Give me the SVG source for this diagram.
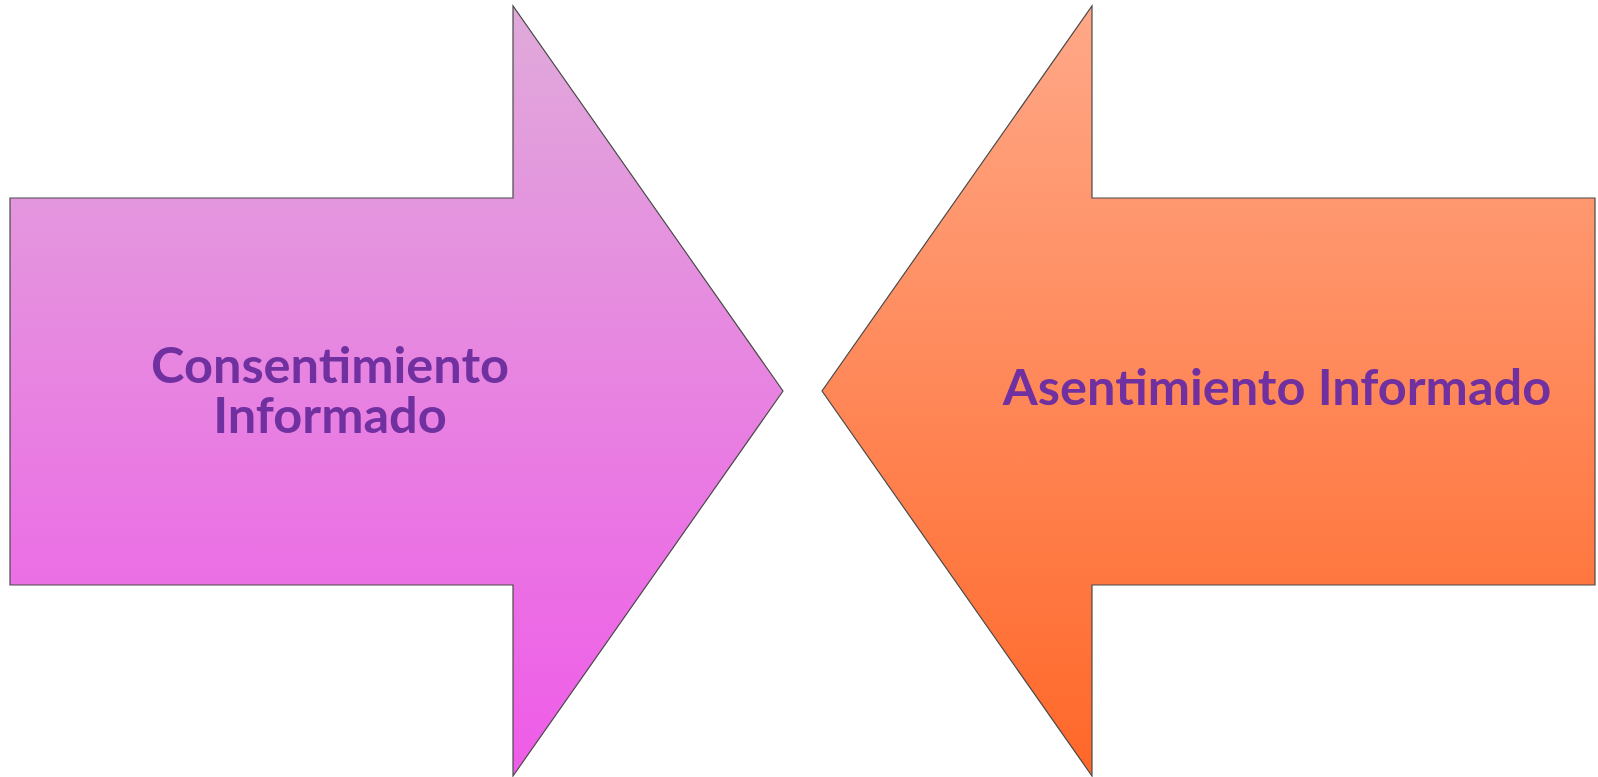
<svg xmlns="http://www.w3.org/2000/svg" width="1598" height="777" viewBox="0 0 1598 777">
<defs>
<linearGradient id="gPink" x1="0" y1="0" x2="0" y2="1" gradientUnits="objectBoundingBox">
<stop offset="0" stop-color="#E0AADA"/>
<stop offset="1" stop-color="#EF5BE8"/>
</linearGradient>
<linearGradient id="gOrange" x1="0" y1="0" x2="0" y2="1" gradientUnits="objectBoundingBox">
<stop offset="0" stop-color="#FFA888"/>
<stop offset="1" stop-color="#FF6728"/>
</linearGradient>
</defs>
<style>
.arrow{stroke:#4a4a4a;stroke-width:1.2;stroke-linejoin:miter}
.lbl{font-family:Lato,"Liberation Sans",sans-serif;font-weight:bold;font-size:50.5px;fill:#7030A0;text-anchor:middle}
</style>
<rect width="1598" height="777" fill="#ffffff"/>
<g id="consentimiento">
<polygon class="arrow" fill="url(#gPink)" points="10,198 513,198 513,6 783,391 513,776 513,585 10,585"/>
<text class="lbl" x="330" y="383">Consentimiento</text>
<text class="lbl" x="330" y="433">Informado</text>
</g>
<g id="asentimiento">
<polygon class="arrow" fill="url(#gOrange)" points="1595,198 1092,198 1092,6 822,391 1092,776 1092,585 1595,585"/>
<text class="lbl" x="1277" y="405">Asentimiento Informado</text>
</g>
<g id="connectors"></g>
</svg>
